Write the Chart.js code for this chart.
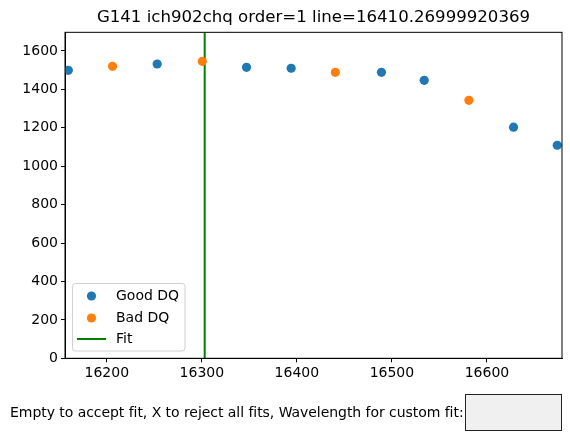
<!DOCTYPE html>
<html>
<head>
<meta charset="utf-8">
<script src="https://cdn.jsdelivr.net/npm/chart.js@4.4.0/dist/chart.umd.min.js"></script>
<style>
  body { margin:0; background:#fff; }
  #wrap { position:relative; width:570px; height:445px; }
  #prompt { position:absolute; left:10px; top:404px; font:14px "DejaVu Sans", sans-serif; letter-spacing:-0.05px; color:#000; white-space:nowrap; }
  #box { position:absolute; left:465px; top:394px; width:95px; height:35px; background:#f0f0f0; border:1px solid #222; }
</style>
</head>
<body>
<div id="wrap">
  <canvas id="c" width="570" height="445"></canvas>
  <div id="prompt">Empty to accept fit, X to reject all fits, Wavelength for custom fit:</div>
  <div id="box"></div>
</div>
<script>
const goodX = [16159.5, 16253, 16347, 16394, 16489, 16534, 16628, 16674];
const goodY = [1499, 1532, 1515, 1510, 1489, 1447, 1203, 1109];
const badX = [16206, 16300.5, 16440.5, 16581];
const badY = [1520, 1546, 1489, 1343];
const fitLine = 16303;
const xTicks = [16200, 16300, 16400, 16500, 16600];
const yTicks = [0, 200, 400, 600, 800, 1000, 1200, 1400, 1600];
const xMin = 16156, xMax = 16679, yMin = 0, yMax = 1697;

const font = "DejaVu Sans";

const frame = {
  id: 'frame',
  afterDraw(chart) {
    const a = chart.chartArea, ctx = chart.ctx;
    ctx.save();
    ctx.strokeStyle = '#000';
    ctx.lineWidth = 1;
    ctx.strokeRect(a.left, a.top, a.right - a.left, a.bottom - a.top);
    // legend box
    const lx = 72.5, ly = 283.5, lw = 112.5, lh = 67.5;
    ctx.fillStyle = 'rgba(255,255,255,0.8)';
    ctx.strokeStyle = '#d0d0d0';
    ctx.beginPath();
    ctx.roundRect(lx, ly, lw, lh, 3);
    ctx.fill();
    ctx.stroke();
    ctx.font = '14px "' + font + '"';
    ctx.textBaseline = 'middle';
    const ds = chart.data.datasets;
    const rows = [296, 318, 339];
    ds.forEach((d, i) => {
      const y = rows[i];
      if (d.showLine) {
        ctx.strokeStyle = d.borderColor;
        ctx.lineWidth = 2;
        ctx.beginPath(); ctx.moveTo(77, y); ctx.lineTo(106, y); ctx.stroke();
      } else {
        ctx.fillStyle = d.backgroundColor;
        ctx.beginPath(); ctx.arc(91.5, y, 4.6, 0, Math.PI * 2); ctx.fill();
      }
      ctx.fillStyle = '#000';
      ctx.fillText(d.label, 116, y);
    });
    ctx.restore();
  }
};

new Chart(document.getElementById('c'), {
  type: 'scatter',
  data: {
    datasets: [
      { label: 'Good DQ', data: goodX.map((x, i) => ({ x, y: goodY[i] })),
        backgroundColor: '#1f77b4', borderColor: '#1f77b4', pointRadius: 4.6, pointHoverRadius: 4.6, borderWidth: 0 },
      { label: 'Bad DQ', data: badX.map((x, i) => ({ x, y: badY[i] })),
        backgroundColor: '#ff7f0e', borderColor: '#ff7f0e', pointRadius: 4.6, pointHoverRadius: 4.6, borderWidth: 0 },
      { label: 'Fit', data: [{ x: fitLine, y: yMin }, { x: fitLine, y: yMax }],
        showLine: true, borderColor: '#008000', backgroundColor: '#008000', borderWidth: 2, pointRadius: 0 }
    ]
  },
  options: {
    responsive: false,
    animation: false,
    events: [],
    layout: { padding: { left: 0, right: 8, top: 0, bottom: 0 } },
    plugins: {
      legend: { display: false },
      tooltip: { enabled: false },
      title: {
        display: true, fullSize: false,
        text: 'G141 ich902chq order=1 line=16410.26999920369',
        color: '#000', font: { family: font, size: 16.6, weight: 'normal', lineHeight: 1.2 },
        padding: { top: 8, bottom: 4.4 }
      }
    },
    scales: {
      x: {
        type: 'linear', min: xMin, max: xMax,
        afterBuildTicks: s => { s.ticks = xTicks.map(v => ({ value: v })); },
        afterFit: s => { s.height = 445 - 358.3; },
        grid: { display: true, drawOnChartArea: false, drawTicks: true, tickLength: 4, color: '#000' },
        border: { display: true, color: '#000' },
        ticks: { color: '#000', font: { family: font, size: 14 }, padding: 3, maxRotation: 0, callback: v => String(v) }
      },
      y: {
        type: 'linear', min: yMin, max: yMax,
        afterBuildTicks: s => { s.ticks = yTicks.map(v => ({ value: v })); },
        afterFit: s => { s.width = 65; },
        grid: { display: true, drawOnChartArea: false, drawTicks: true, tickLength: 4, color: '#000' },
        border: { display: true, color: '#000' },
        ticks: { color: '#000', font: { family: font, size: 14 }, padding: 3, callback: v => String(v) }
      }
    }
  },
  plugins: [frame]
});
</script>
</body>
</html>
